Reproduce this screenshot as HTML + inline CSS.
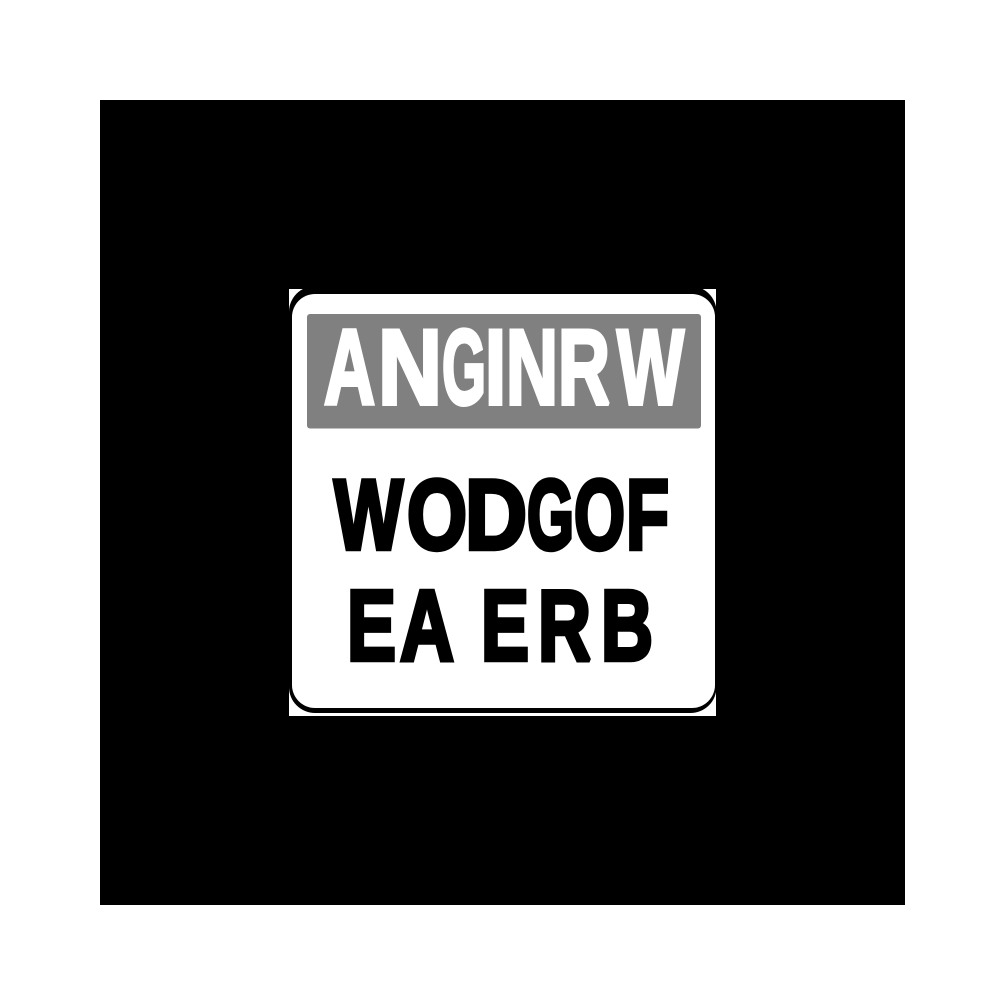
<!DOCTYPE html>
<html lang="en">
<head>
<meta charset="utf-8">
<title>Warning sign</title>
<style>
html,body{margin:0;padding:0;background:#fff;width:1005px;height:1005px;overflow:hidden}
svg{display:block}
text{font-family:"Liberation Sans",Arial,sans-serif;font-weight:700}
.w{fill:#fff;stroke:#fff;stroke-width:4;stroke-linejoin:miter;stroke-miterlimit:2}
.k{fill:#000;stroke:#000;stroke-width:4.5;stroke-linejoin:miter;stroke-miterlimit:2}
</style>
</head>
<body>
<svg xmlns="http://www.w3.org/2000/svg" width="1005" height="1005" viewBox="0 0 1005 1005">
  <rect x="100" y="100" width="805" height="805" fill="#000"/>
  <rect x="289" y="289" width="427" height="427" fill="#fff"/>
  <rect x="289" y="286" width="427.5" height="427" rx="26" fill="#000"/>
  <rect x="292" y="294" width="423" height="414" rx="23" fill="#fff"/>
  <rect x="307" y="314" width="394" height="114.500" rx="3" fill="#808080"/>
  <g class="w">
    <text x="324" y="404" font-size="107" textLength="51" lengthAdjust="spacingAndGlyphs">A</text>
    <text x="378" y="404" font-size="107" textLength="64" lengthAdjust="spacingAndGlyphs">N</text>
    <text x="442" y="404" font-size="107" textLength="44" lengthAdjust="spacingAndGlyphs">G</text>
    <text x="485" y="404" font-size="107" textLength="21" lengthAdjust="spacingAndGlyphs">I</text>
    <text x="506" y="404" font-size="107" textLength="52" lengthAdjust="spacingAndGlyphs">N</text>
    <text x="558" y="404" font-size="107" textLength="52" lengthAdjust="spacingAndGlyphs">R</text>
    <text x="617" y="404" font-size="107" textLength="67" lengthAdjust="spacingAndGlyphs">W</text>
  </g>
  <g class="k">
    <text x="334" y="549" font-size="99" textLength="69" lengthAdjust="spacingAndGlyphs">W</text>
    <text x="407" y="549" font-size="99" textLength="60" lengthAdjust="spacingAndGlyphs">O</text>
    <text x="465" y="549" font-size="99" textLength="62" lengthAdjust="spacingAndGlyphs">D</text>
    <text x="527" y="549" font-size="99" textLength="47" lengthAdjust="spacingAndGlyphs">G</text>
    <text x="574" y="549" font-size="99" textLength="51" lengthAdjust="spacingAndGlyphs">O</text>
    <text x="626" y="549" font-size="99" textLength="43" lengthAdjust="spacingAndGlyphs">F</text>
  </g>
  <g class="k">
    <text x="347" y="660" font-size="100" textLength="49" lengthAdjust="spacingAndGlyphs">E</text>
    <text x="400" y="660" font-size="100" textLength="54" lengthAdjust="spacingAndGlyphs">A</text>
    <text x="481" y="660" font-size="100" textLength="48" lengthAdjust="spacingAndGlyphs">E</text>
    <text x="538" y="660" font-size="100" textLength="53" lengthAdjust="spacingAndGlyphs">R</text>
    <text x="601" y="660" font-size="100" textLength="52" lengthAdjust="spacingAndGlyphs">B</text>
  </g>
</svg>
</body>
</html>
